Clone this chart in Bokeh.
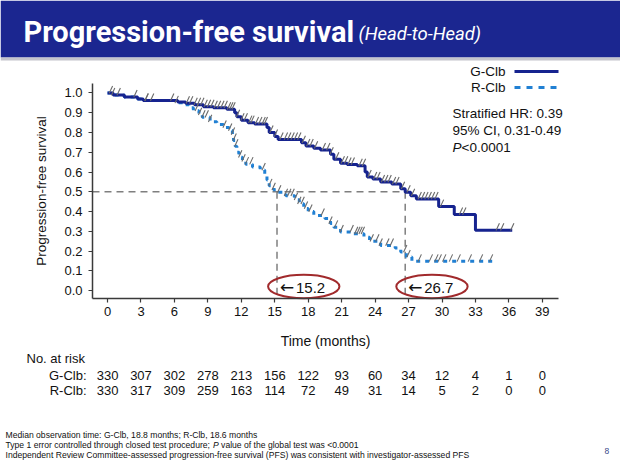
import numpy as np
from bokeh.plotting import figure
from bokeh.models import Range1d, FixedTicker, NumeralTickFormatter, Label, LabelSet, ColumnDataSource
from bokeh.embed import file_html
from bokeh.resources import INLINE
from bokeh.core.properties import value

# ---------------- data ----------------
g_times = [0, 0.5, 1.5, 2.7, 3.2, 6.3, 7.0, 7.8, 8.6, 9.5, 10.7, 11.4, 11.6, 12.0, 12.6,
           13.2, 14.3, 14.5, 15.0, 15.3, 17.4, 17.8, 18.5, 19.1, 20.0, 20.3, 20.9, 21.5,
           22.4, 23.1, 23.3, 23.8, 24.5, 25.5, 26.3, 26.7, 27.2, 27.7, 29.7, 31.1, 33.0]
g_surv = [1.0, 0.99, 0.98, 0.97, 0.962, 0.955, 0.948, 0.94, 0.93, 0.925, 0.918, 0.90, 0.88,
          0.862, 0.85, 0.843, 0.825, 0.80, 0.78, 0.765, 0.748, 0.732, 0.72, 0.712, 0.69,
          0.665, 0.645, 0.638, 0.632, 0.60, 0.575, 0.565, 0.55, 0.54, 0.515, 0.498, 0.48,
          0.464, 0.425, 0.385, 0.305]
g_last = 36.3

r_times = [0, 0.5, 1.5, 2.7, 3.2, 6.0, 6.8, 7.3, 7.7, 8.2, 8.5, 9.2, 9.8, 10.4, 10.9, 11.2,
           11.3, 11.45, 11.6, 11.8, 12.1, 12.4, 13.0, 13.7, 14.1, 14.3, 14.5, 14.9, 15.2,
           16.0, 16.8, 17.2, 17.6, 18.0, 18.5, 19.5, 20.0, 20.3, 20.9, 22.0, 23.0, 23.5,
           24.5, 25.8, 26.3, 26.8, 27.3]
r_surv = [1.0, 0.99, 0.98, 0.97, 0.962, 0.95, 0.94, 0.925, 0.91, 0.89, 0.877, 0.855, 0.84,
          0.825, 0.81, 0.79, 0.76, 0.73, 0.70, 0.675, 0.655, 0.64, 0.625, 0.61, 0.585, 0.56,
          0.53, 0.51, 0.498, 0.48, 0.46, 0.44, 0.415, 0.40, 0.38, 0.365, 0.34, 0.32, 0.297,
          0.288, 0.27, 0.25, 0.228, 0.215, 0.195, 0.17, 0.148]
r_last = 34.7

g_censor = [0.3, 1.0, 3.5, 4.0, 5.8, 7.2, 7.5, 7.9, 8.2, 8.5, 8.8, 9.1, 9.4, 9.7, 10.0, 10.3,
            10.6, 10.9, 11.1, 11.3, 11.7, 12.1, 12.4, 12.8, 13.0, 13.4, 13.7, 14.0, 14.2,
            14.7, 15.1, 15.6, 16.0, 16.3, 16.6, 16.9, 17.2, 17.6, 18.0, 18.3, 18.7, 19.4,
            19.8, 20.1, 20.6, 21.1, 21.4, 21.7, 22.0, 22.7, 23.0, 23.5, 24.0, 24.3, 24.7,
            25.0, 25.3, 25.7, 26.0, 26.5, 27.0, 27.4, 28.0, 28.3, 28.6, 28.9, 29.2, 29.5,
            30.0, 31.7, 32.0, 35.0, 35.4, 36.3]
r_censor = [0.5, 2.5, 3.5, 6.2, 8.0, 8.3, 8.6, 8.9, 9.2, 10.5, 11.0, 11.25, 11.4, 11.55,
            11.9, 12.2, 12.5, 12.9, 14.0, 14.6, 14.9, 15.4, 16.0, 16.3, 16.6, 16.9, 17.2,
            17.5, 17.8, 18.2, 19.3, 20.0, 20.5, 21.0, 21.9, 22.3, 22.5, 22.7, 22.9, 23.7,
            24.2, 24.5, 25.1, 25.5, 26.7, 27.0, 28.0, 29.0, 29.5, 29.8, 30.2, 30.8, 31.5,
            32.5, 33.5, 34.4]

medians = [15.2, 26.7]
median_labels = ["15.2", "26.7"]
x_ticks = [0, 3, 6, 9, 12, 15, 18, 21, 24, 27, 30, 33, 36, 39]
y_ticks = [0.0, 0.1, 0.2, 0.3, 0.4, 0.5, 0.6, 0.7, 0.8, 0.9, 1.0]
risk_g = [330, 307, 302, 278, 213, 156, 122, 93, 60, 34, 12, 4, 1, 0]
risk_r = [330, 317, 309, 259, 163, 114, 72, 49, 31, 14, 5, 2, 0, 0]
arm_names = ["G-Clb", "R-Clb"]
title_main = "Progression-free survival"
title_sub = "(Head-to-Head)"
stats_lines = ["Stratified HR: 0.39", "95% CI, 0.31-0.49", "<0.0001"]
footnotes = ["Median observation time: G-Clb, 18.8 months; R-Clb, 18.6 months",
             "Type 1 error controlled through closed test procedure;",
             "Independent Review Committee-assessed progression-free survival (PFS) was consistent with investigator-assessed PFS"]
footnote2_tail = "value of the global test was <0.0001"
slide_number = "8"

# ---------------- styles / geometry ----------------
NAVY = "#16238f"
LIGHT = "#2180d3"
FONT = "Liberation Sans"
HEADER_BLUE = "#1b2690"
TXT = "#111111"

W, H = 620, 462
AREA_L, AREA_R, AREA_T, AREA_B = 92, 558, 83, 298      # plot area in canvas pixels
XLIM = (-1.35, 40.45)
YLIM = (-0.04, 1.048)
SX = (AREA_R - AREA_L) / (XLIM[1] - XLIM[0])
SY = (AREA_B - AREA_T) / (YLIM[1] - YLIM[0])

def X(px):
    return XLIM[0] + (px - AREA_L) / SX

def Y(py):
    return YLIM[0] + (AREA_B - py) / SY

p = figure(width=W, height=H, x_range=Range1d(X(0), X(W)), y_range=Range1d(Y(H), Y(0)),
           toolbar_location=None, output_backend="svg",
           min_border_left=0, min_border_right=0, min_border_top=0, min_border_bottom=0,
           outline_line_color=None, background_fill_color="white", border_fill_color="white")
p.grid.visible = False

# ---------------- header band ----------------
p.quad(left=[X(0)], right=[X(W)], top=[Y(0)], bottom=[Y(57)], fill_color=HEADER_BLUE,
       line_color=None)
p.quad(left=[X(0)], right=[X(W)], top=[Y(57)], bottom=[Y(60)], fill_color="#c4c4cc",
       line_color=None)
p.add_layout(Label(x=X(23), y=Y(31), text=title_main, text_color="white",
                   text_font="Roboto", text_font_style="bold",
                   text_font_size="29px", text_baseline="middle"))
p.add_layout(Label(x=X(358), y=Y(33.5), text=title_sub, text_color="white",
                   text_font="Roboto", text_font_style="italic",
                   text_font_size="18.5px", text_baseline="middle"))

# ---------------- axes ----------------
for ax in (p.xaxis[0], p.yaxis[0]):
    ax.axis_line_color = "#3a3a3a"
    ax.axis_line_width = 1.5
    ax.major_tick_line_color = "#3a3a3a"
    ax.major_tick_line_width = 1.2
    ax.major_tick_in = 0
    ax.major_tick_out = 4
    ax.minor_tick_line_color = None
    ax.major_label_text_font = FONT
    ax.major_label_text_font_size = "13px"
    ax.major_label_text_color = TXT
    ax.axis_label_text_font = FONT
    ax.axis_label_text_font_style = "normal"
    ax.axis_label_text_color = TXT

p.xaxis.fixed_location = YLIM[0]
p.yaxis.fixed_location = XLIM[0]
p.xaxis.bounds = XLIM
p.yaxis.bounds = YLIM
p.xaxis.ticker = FixedTicker(ticks=x_ticks, minor_ticks=[])
p.yaxis.ticker = FixedTicker(ticks=y_ticks, minor_ticks=[])
p.yaxis.formatter = NumeralTickFormatter(format="0.0")
p.xaxis.major_label_standoff = 4
p.yaxis.major_label_standoff = 6
p.xaxis.axis_label = "Time (months)"
p.yaxis.axis_label = "Progression-free survival"
p.xaxis.axis_label_text_font_size = "14px"
p.yaxis.axis_label_text_font_size = "13.5px"
p.xaxis.axis_label_standoff = 14
p.yaxis.axis_label_standoff = 12

# ---------------- median reference lines ----------------
p.segment(x0=[XLIM[0]], y0=[0.5], x1=[max(medians)], y1=[0.5],
          line_color="#7f7f7f", line_width=1.5, line_dash="7 5")
p.segment(x0=medians, y0=[0.5] * 2, x1=medians, y1=[-0.02] * 2,
          line_color="#7f7f7f", line_width=1.5, line_dash="7 5")

# ---------------- KM curves ----------------
def step_xy(times, surv, last):
    return list(times) + [last], list(surv) + [surv[-1]]

def surv_at(times, surv, ts):
    idx = np.searchsorted(np.array(times), np.array(ts), side="right") - 1
    return np.array(surv)[idx]

rx, ry = step_xy(r_times, r_surv, r_last)
gx, gy = step_xy(g_times, g_surv, g_last)
p.step(rx, ry, mode="after", line_color=LIGHT, line_width=3, line_dash="4 5")
p.step(gx, gy, mode="after", line_color=NAVY, line_width=3)

for cts, tt, ss in ((r_censor, r_times, r_surv), (g_censor, g_times, g_surv)):
    cy = surv_at(tt, ss, cts) + 0.017
    p.scatter(cts, cy, marker="dash", size=8, angle=np.deg2rad(65),
              line_color="#6a6a6a", line_width=1.1)

# ---------------- ellipses with median labels ----------------
p.ellipse(x=[m + 2.4 for m in medians], y=[Y(286)] * 2, width=6.4, height=0.118,
          fill_color=None, line_color="#a12a2c", line_width=2)
p.text(x=[m + 3 / SX for m in medians], y=[Y(286.5)] * 2, text=["\u2190"] * 2,
       text_font=value("DejaVu Sans"), text_font_size="17px", text_baseline="middle",
       text_align="left", text_color=TXT)
p.text(x=[m + 19 / SX for m in medians], y=[Y(287)] * 2, text=median_labels,
       text_font=value(FONT), text_font_size="15px", text_baseline="middle",
       text_align="left", text_color=TXT)

# ---------------- legend (label left, line right) ----------------
for name, py, col, dash in zip(arm_names, [71, 87], [NAVY, LIGHT], ["solid", "6 6"]):
    p.add_layout(Label(x=X(505), y=Y(py), text=name, text_align="right",
                       text_baseline="middle", text_font=FONT, text_font_size="13.5px",
                       text_color=TXT))
    p.segment(x0=[X(514)], y0=[Y(py)], x1=[X(558)], y1=[Y(py)], line_color=col,
              line_width=3, line_dash=dash)

# ---------------- stats ----------------
for txt, py in zip(stats_lines[:2], [113, 130]):
    p.add_layout(Label(x=X(452), y=Y(py), text=txt, text_baseline="middle",
                       text_font=FONT, text_font_size="13.5px", text_color=TXT))
p.add_layout(Label(x=X(452), y=Y(147), text="P", text_baseline="middle", text_font=FONT,
                   text_font_style="italic", text_font_size="13.5px", text_color=TXT))
p.add_layout(Label(x=X(461), y=Y(147), text=stats_lines[2], text_baseline="middle",
                   text_font=FONT, text_font_size="13.5px", text_color=TXT))

# ---------------- number at risk ----------------
p.add_layout(Label(x=X(26), y=Y(358), text="No. at risk", text_baseline="middle",
                   text_font=FONT, text_font_size="13px", text_color=TXT))
for name, risk, py in zip(arm_names, [risk_g, risk_r], [375, 390]):
    p.add_layout(Label(x=X(86), y=Y(py), text=name + ":", text_align="right",
                       text_baseline="middle", text_font=FONT, text_font_size="13px",
                       text_color=TXT))
    src = ColumnDataSource(dict(x=x_ticks, t=[str(v) for v in risk]))
    p.add_layout(LabelSet(x="x", y=Y(py), text="t", source=src, text_align="center",
                          text_baseline="middle", text_font=value(FONT),
                          text_font_size="13px", text_color=TXT))

# ---------------- footnotes ----------------
FS = 8.6
for txt, py in zip(footnotes, [434, 444, 454]):
    p.add_layout(Label(x=X(5), y=Y(py), text=txt, text_baseline="middle",
                       text_font=FONT, text_font_size=f"{FS}px", text_color=TXT))
p_x = 5 + 24.123 * FS
p.add_layout(Label(x=X(p_x), y=Y(444), text="P", text_baseline="middle", text_font=FONT,
                   text_font_style="italic", text_font_size=f"{FS}px", text_color=TXT))
p.add_layout(Label(x=X(p_x + (0.667 + 0.278) * FS), y=Y(444), text=footnote2_tail,
                   text_baseline="middle", text_font=FONT, text_font_size=f"{FS}px",
                   text_color=TXT))
p.add_layout(Label(x=X(604), y=Y(450), text=slide_number, text_baseline="middle",
                   text_font=FONT, text_font_size="8.5px", text_color="#3a4a8a"))

open("out.html", "w").write(file_html(p, INLINE))
